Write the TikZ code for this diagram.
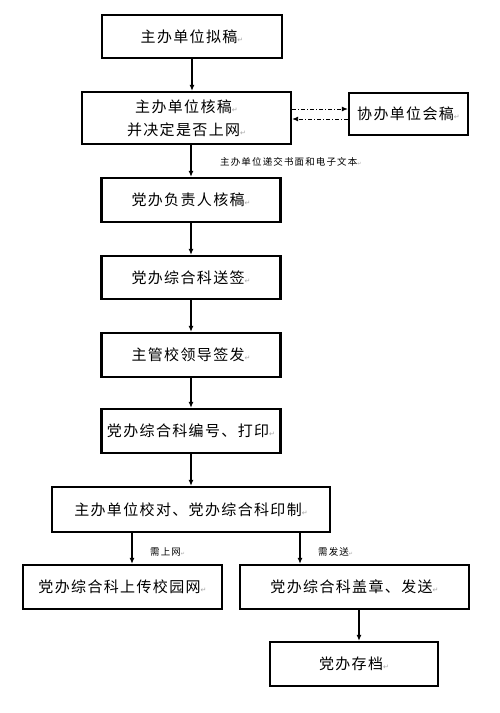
\documentclass[tikz,border=0pt]{standalone}
\usepackage{fontspec}
\usetikzlibrary{arrows.meta,calc}
\newfontfamily\cjk[LetterSpace=9]{Noto Sans CJK SC}
\newfontfamily\cjksmall[LetterSpace=12]{Noto Sans CJK SC}
\newfontfamily\dejavu{DejaVu Sans}
\newcommand{\pmark}{{\dejavu\fontsize{7}{7}\selectfont\color{gray!70}↵}}
\newcommand{\smark}{{\dejavu\fontsize{5}{5}\selectfont\color{gray!70}↵}}
\tikzset{
  box/.style={draw=black, line width=2.3pt, fill=white, inner sep=0pt,
    font=\cjk\fontsize{15}{23}\selectfont, align=center},
  arr/.style={line width=1.1pt, -{Latex[length=6pt,width=5pt]}},
  dd/.style={line width=0.9pt, dash pattern=on 4pt off 2pt on 1pt off 2pt, -{Latex[length=6pt,width=5pt]}},
  lab/.style={font=\cjksmall\fontsize{9.5}{11}\selectfont, inner sep=0pt}
}
\begin{document}
\begin{tikzpicture}[x=1pt,y=-1pt]
\useasboundingbox[fill=white] (0,0) rectangle (499,713);
\node[box, minimum width=180pt, minimum height=43pt] (b1) at (192,36.5) {主办单位拟稿\pmark};
\node[box, minimum width=209pt, minimum height=52pt] (b2) at (186.5,118) {主办单位核稿\pmark\\并决定是否上网\pmark};
\node[box, minimum width=119pt, minimum height=42pt] (b3) at (408.5,114) {协办单位会稿\pmark};
\node[box, minimum width=179pt, minimum height=44pt] (b4) at (191,200) {党办负责人核稿\pmark};
\node[box, minimum width=179pt, minimum height=43pt] (b5) at (191,277.5) {党办综合科送签\pmark};
\node[box, minimum width=179pt, minimum height=44pt] (b6) at (191,355) {主管校领导签发\pmark};
\node[box, minimum width=179pt, minimum height=44pt] (b7) at (191,431) {党办综合科编号、打印\pmark};
\node[box, minimum width=278pt, minimum height=45pt] (b8) at (191,509.5) {主办单位校对、党办综合科印制\pmark};
\node[box, minimum width=199pt, minimum height=44pt] (b9) at (122.5,587) {党办综合科上传校园网\pmark};
\node[box, minimum width=229pt, minimum height=44pt] (b10) at (354.5,587) {党办综合科盖章、发送\pmark};
\node[box, minimum width=168pt, minimum height=44pt] (b11) at (354,664) {党办存档\pmark};

\node[lab, anchor=west] (l1) at (220,162) {主办单位递交书面和电子文本\smark};
\node[lab, anchor=west] (l2) at (150,552) {需上网\smark};
\node[lab, anchor=west] (l3) at (318,552) {需发送\smark};

\draw[arr] (b1.south) -- (b1.south |- b2.north);
\draw[arr] (b4.north |- b2.south) -- (b4.north);
\draw[arr] (b4) -- (b5);
\draw[arr] (b5) -- (b6);
\draw[arr] (b6) -- (b7);
\draw[arr] (b7) -- (b8);
\coordinate (c1) at (132,532);
\coordinate (c2) at (300,532);
\coordinate (c3) at (359,609);
\draw[arr] (c1 |- b8.south) -- (c1 |- b9.north);
\draw[arr] (c2 |- b8.south) -- (c2 |- b10.north);
\draw[arr] (c3 |- b10.south) -- (c3 |- b11.north);
\coordinate (t1) at ([yshift=5pt]b3.west);
\coordinate (t2) at ([yshift=-5pt]b3.west);
\draw[dd] (t1 -| b2.east) -- (t1);
\draw[dd] (t2) -- (t2 -| b2.east);
\end{tikzpicture}
\end{document}
